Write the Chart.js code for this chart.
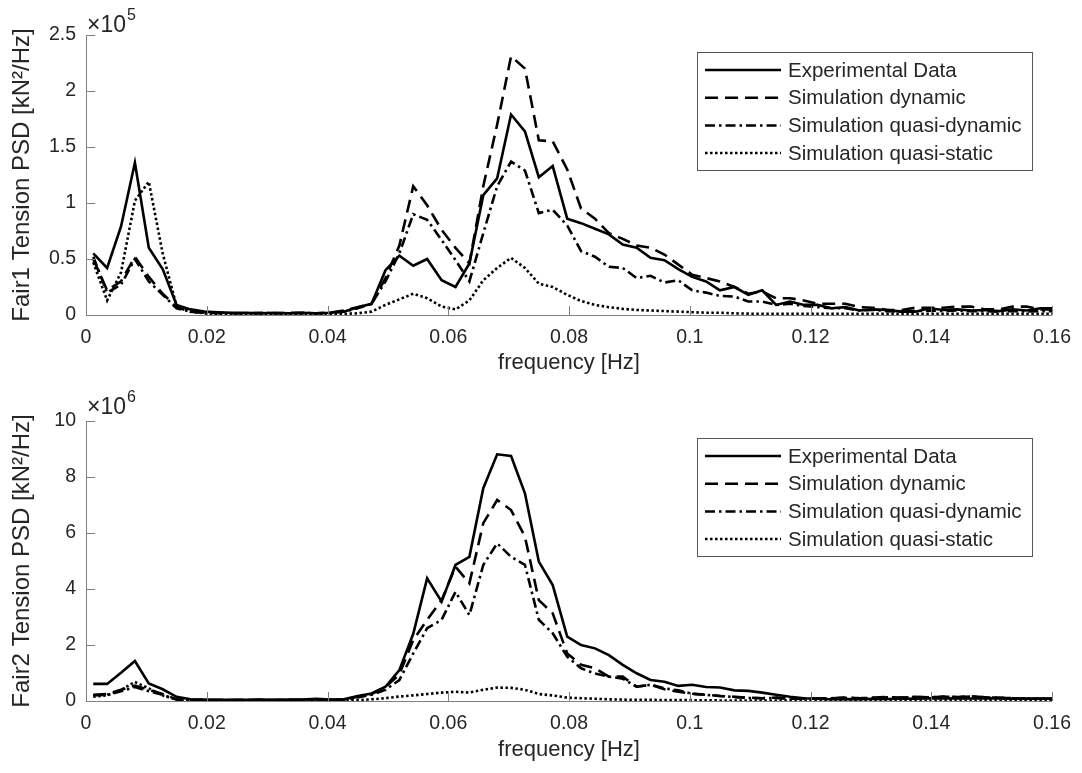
<!DOCTYPE html>
<html>
<head>
<meta charset="utf-8">
<script src="https://cdn.jsdelivr.net/npm/chart.js@4/dist/chart.umd.min.js"></script>
<style>
  body { margin: 0; background: #fff; }
  .box { position: absolute; left: 0; width: 1082px; }
  #top { top: 0; height: 386px; }
  #bot { top: 386px; height: 387px; }
</style>
</head>
<body>
<div class="box" id="top"><canvas id="c1"></canvas></div>
<div class="box" id="bot"><canvas id="c2"></canvas></div>
<script>
// frequency bins [Hz]
const freq = [
  0.0012, 0.0035, 0.0058, 0.0081, 0.0104, 0.0127, 0.0150, 0.0173, 0.0196, 0.0219,
  0.0242, 0.0265, 0.0288, 0.0312, 0.0335, 0.0358, 0.0381, 0.0404, 0.0427, 0.0450,
  0.0473, 0.0496, 0.0519, 0.0542, 0.0565, 0.0589, 0.0612, 0.0635, 0.0658, 0.0681,
  0.0704, 0.0727, 0.0750, 0.0773, 0.0797, 0.0820, 0.0843, 0.0866, 0.0889, 0.0912,
  0.0935, 0.0958, 0.0981, 0.1004, 0.1027, 0.1050, 0.1074, 0.1097, 0.1120, 0.1143,
  0.1166, 0.1189, 0.1212, 0.1235, 0.1258, 0.1281, 0.1304, 0.1327, 0.1351, 0.1374,
  0.1397, 0.1420, 0.1443, 0.1466, 0.1489, 0.1512, 0.1535, 0.1558, 0.1581, 0.1605
];

const labels = ['Experimental Data', 'Simulation dynamic', 'Simulation quasi-dynamic', 'Simulation quasi-static'];

// Fair1 PSD, units of 1e5 kN^2/Hz
const fair1Exp = [
  0.55, 0.42, 0.79, 1.36, 0.60, 0.41, 0.09, 0.05, 0.03, 0.025,
  0.02, 0.02, 0.015, 0.02, 0.015, 0.02, 0.015, 0.02, 0.03, 0.07,
  0.10, 0.40, 0.53, 0.44, 0.50, 0.31, 0.25, 0.46, 1.07, 1.22,
  1.79, 1.64, 1.23, 1.33, 0.86, 0.82, 0.77, 0.72, 0.63, 0.60,
  0.51, 0.49, 0.41, 0.34, 0.30, 0.22, 0.25, 0.18, 0.22, 0.09,
  0.12, 0.09, 0.09, 0.06, 0.07, 0.04, 0.05, 0.045, 0.03, 0.03,
  0.06, 0.045, 0.05, 0.04, 0.045, 0.035, 0.05, 0.04, 0.06, 0.06
];
const fair1Dyn = [
  0.50, 0.22, 0.30, 0.52, 0.34, 0.19, 0.07, 0.03, 0.02, 0.02,
  0.015, 0.015, 0.015, 0.015, 0.02, 0.015, 0.015, 0.02, 0.04, 0.07,
  0.10, 0.33, 0.62, 1.15, 0.98, 0.76, 0.60, 0.46, 1.15, 1.70,
  2.31, 2.20, 1.56, 1.55, 1.30, 0.95, 0.86, 0.73, 0.68, 0.62,
  0.60, 0.54, 0.45, 0.36, 0.33, 0.30, 0.25, 0.19, 0.21, 0.15,
  0.15, 0.13, 0.10, 0.10, 0.10, 0.07, 0.065, 0.045, 0.045, 0.065,
  0.065, 0.065, 0.075, 0.075, 0.05, 0.05, 0.075, 0.075, 0.05, 0.05
];
const fair1QDyn = [
  0.52, 0.20, 0.27, 0.50, 0.30, 0.18, 0.06, 0.03, 0.02, 0.015,
  0.015, 0.015, 0.02, 0.015, 0.015, 0.02, 0.015, 0.02, 0.03, 0.06,
  0.10, 0.30, 0.55, 0.90, 0.85, 0.67, 0.49, 0.30, 0.73, 1.15,
  1.37, 1.29, 0.91, 0.94, 0.80, 0.57, 0.52, 0.43, 0.42, 0.33,
  0.35, 0.29, 0.31, 0.22, 0.20, 0.17, 0.165, 0.12, 0.12, 0.09,
  0.10, 0.08, 0.07, 0.06, 0.06, 0.04, 0.045, 0.035, 0.03, 0.035,
  0.04, 0.035, 0.04, 0.035, 0.035, 0.03, 0.035, 0.03, 0.035, 0.035
];
const fair1QSta = [
  0.47, 0.13, 0.38, 1.02, 1.19, 0.55, 0.08, 0.03, 0.015, 0.01,
  0.01, 0.01, 0.01, 0.01, 0.01, 0.01, 0.01, 0.01, 0.01, 0.015,
  0.03, 0.09, 0.14, 0.19, 0.15, 0.075, 0.05, 0.13, 0.31, 0.42,
  0.51, 0.42, 0.28, 0.25, 0.18, 0.125, 0.09, 0.07, 0.055, 0.045,
  0.04, 0.035, 0.03, 0.025, 0.02, 0.02, 0.015, 0.012, 0.01, 0.01,
  0.01, 0.01, 0.01, 0.01, 0.01, 0.01, 0.01, 0.01, 0.01, 0.01,
  0.01, 0.01, 0.01, 0.01, 0.01, 0.01, 0.01, 0.01, 0.01, 0.01
];

// Fair2 PSD, units of 1e6 kN^2/Hz
const fair2Exp = [
  0.61, 0.61, 1.01, 1.43, 0.63, 0.42, 0.15, 0.06, 0.05, 0.04,
  0.04, 0.04, 0.05, 0.04, 0.05, 0.05, 0.08, 0.05, 0.06, 0.18,
  0.27, 0.51, 1.10, 2.40, 4.38, 3.55, 4.86, 5.15, 7.60, 8.81,
  8.75, 7.42, 4.98, 4.14, 2.30, 2.00, 1.88, 1.64, 1.29, 0.99,
  0.75, 0.69, 0.54, 0.58, 0.50, 0.48, 0.38, 0.36, 0.30, 0.22,
  0.15, 0.10, 0.08, 0.06, 0.07, 0.06, 0.08, 0.07, 0.09, 0.08,
  0.10, 0.09, 0.10, 0.09, 0.10, 0.09, 0.08, 0.08, 0.09, 0.09
];
const fair2Dyn = [
  0.22, 0.25, 0.40, 0.55, 0.40, 0.25, 0.06, 0.04, 0.04, 0.03,
  0.03, 0.03, 0.04, 0.03, 0.04, 0.04, 0.06, 0.04, 0.05, 0.15,
  0.25, 0.50, 0.95, 2.18, 2.90, 3.60, 4.80, 4.20, 6.35, 7.18,
  6.82, 5.87, 3.60, 3.13, 1.70, 1.29, 1.17, 0.87, 0.87, 0.51,
  0.58, 0.42, 0.33, 0.26, 0.22, 0.18, 0.15, 0.12, 0.10, 0.12,
  0.08, 0.10, 0.09, 0.10, 0.12, 0.10, 0.12, 0.14, 0.12, 0.15,
  0.13, 0.16, 0.14, 0.17, 0.13, 0.12, 0.10, 0.09, 0.08, 0.08
];
const fair2QDyn = [
  0.20, 0.22, 0.35, 0.50, 0.35, 0.22, 0.05, 0.04, 0.03, 0.03,
  0.03, 0.03, 0.03, 0.03, 0.04, 0.03, 0.05, 0.04, 0.05, 0.13,
  0.22, 0.40, 0.75, 1.70, 2.60, 2.90, 3.90, 3.07, 4.86, 5.63,
  5.15, 4.86, 2.90, 2.42, 1.58, 1.17, 0.98, 0.87, 0.80, 0.51,
  0.58, 0.45, 0.38, 0.26, 0.22, 0.18, 0.14, 0.11, 0.10, 0.11,
  0.08, 0.09, 0.09, 0.10, 0.11, 0.10, 0.11, 0.13, 0.12, 0.14,
  0.13, 0.15, 0.14, 0.16, 0.13, 0.11, 0.10, 0.09, 0.08, 0.08
];
const fair2QSta = [
  0.15, 0.20, 0.40, 0.68, 0.45, 0.20, 0.05, 0.02, 0.02, 0.02,
  0.02, 0.02, 0.02, 0.02, 0.02, 0.02, 0.02, 0.02, 0.02, 0.03,
  0.06, 0.10, 0.16, 0.20, 0.25, 0.30, 0.33, 0.30, 0.40, 0.48,
  0.47, 0.40, 0.25, 0.20, 0.12, 0.10, 0.08, 0.06, 0.05, 0.04,
  0.04, 0.035, 0.03, 0.03, 0.025, 0.02, 0.02, 0.02, 0.02, 0.02,
  0.02, 0.02, 0.02, 0.02, 0.02, 0.02, 0.02, 0.02, 0.02, 0.02,
  0.02, 0.02, 0.02, 0.02, 0.02, 0.02, 0.02, 0.02, 0.02, 0.02
];

const FONT = "'Liberation Sans', Arial, sans-serif";
const AXIS = '#808080';
const TEXT = '#262626';
const dashes = [[], [13, 7], [10, 4, 2.5, 4], [2.5, 2.5]];

function series(vals){ return freq.map((f,i)=>({x:f, y:vals[i]})); }

// inward ticks, axis lines, x10^n label, legend box
const matlabLook = {
  id: 'matlabLook',
  afterDatasetsDraw(chart, args, opts){
    const ctx = chart.ctx, a = chart.chartArea;
    const xs = chart.scales.x, ys = chart.scales.y;
    ctx.save();
    ctx.strokeStyle = AXIS; ctx.lineWidth = 1; ctx.setLineDash([]);
    ctx.beginPath();
    ctx.moveTo(a.left+0.5, a.top); ctx.lineTo(a.left+0.5, a.bottom+0.5);
    ctx.lineTo(a.right, a.bottom+0.5);
    xs.ticks.forEach(t=>{
      const px = Math.round(xs.getPixelForValue(t.value))+0.5;
      ctx.moveTo(px, a.bottom); ctx.lineTo(px, a.bottom-9);
    });
    ys.ticks.forEach(t=>{
      const py = Math.round(ys.getPixelForValue(t.value))+0.5;
      ctx.moveTo(a.left, py); ctx.lineTo(a.left+9, py);
    });
    ctx.stroke();

    // exponent
    ctx.fillStyle = TEXT;
    ctx.textBaseline = 'alphabetic'; ctx.textAlign = 'left';
    ctx.font = '23px ' + FONT;
    const ey = a.top - opts.expGap;
    ctx.fillText('\u00d710', a.left+1, ey);
    const w = ctx.measureText('\u00d710').width;
    ctx.font = '16px ' + FONT;
    ctx.fillText(opts.exp, a.left+2+w, ey-12);

    // legend
    const bw = 335, bh = 118;
    const bx = a.right - 20 - bw, by = a.top + 17;
    ctx.fillStyle = '#fff';
    ctx.fillRect(bx, by, bw, bh);
    ctx.strokeStyle = '#555'; ctx.lineWidth = 1;
    ctx.strokeRect(bx+0.5, by+0.5, bw, bh);
    ctx.font = '20.5px ' + FONT;
    ctx.textBaseline = 'middle';
    chart.data.datasets.forEach((d,i)=>{
      const y = by + 18 + i*27.7;
      ctx.strokeStyle = '#000'; ctx.lineWidth = 2.5;
      ctx.setLineDash(d.borderDash || []);
      ctx.beginPath(); ctx.moveTo(bx+8, y); ctx.lineTo(bx+84, y); ctx.stroke();
      ctx.setLineDash([]);
      ctx.fillStyle = TEXT;
      ctx.fillText(d.label, bx+91, y+1);
    });
    ctx.restore();
  }
};

function makeChart(id, sets, yMax, yStep, yTitle, exp, expGap, xH){
  return new Chart(document.getElementById(id), {
    type: 'line',
    data: {
      datasets: sets.map((v,i)=>({
        label: labels[i], data: series(v),
        borderColor: '#000', borderWidth: 2.6, borderDash: dashes[i],
        pointRadius: 0, tension: 0, fill: false
      }))
    },
    options: {
      responsive: true, maintainAspectRatio: false, animation: false,
      layout: { padding: { top: 35, right: 29, left: 0, bottom: 0 } },
      plugins: { legend: { display: false }, tooltip: { enabled: false }, matlabLook: { exp, expGap } },
      scales: {
        x: {
          type: 'linear', min: 0, max: 0.16,
          grid: { display: false, drawTicks: false }, border: { display: false },
          ticks: { stepSize: 0.02, padding: 11, color: TEXT, font: { family: FONT, size: 19.5 },
            maxRotation: 0, autoSkip: false, callback: v => String(+v.toFixed(3)) },
          title: { display: true, text: 'frequency [Hz]', color: TEXT,
            font: { family: FONT, size: 22 }, padding: { top: 0, bottom: 10 } },
          afterFit: s => { s.height = xH; }
        },
        y: {
          min: 0, max: yMax,
          grid: { display: false, drawTicks: false }, border: { display: false },
          ticks: { stepSize: yStep, padding: 10, color: TEXT, font: { family: FONT, size: 19.5 },
            callback: v => String(+v.toFixed(2)) },
          title: { display: true, text: yTitle, color: TEXT,
            font: { family: FONT, size: 24 }, padding: { top: 8, bottom: 0 } },
          afterFit: s => { s.width = 86; }
        }
      }
    },
    plugins: [matlabLook]
  });
}

makeChart('c1', [fair1Exp, fair1Dyn, fair1QDyn, fair1QSta], 2.5, 0.5,
  'Fair1 Tension PSD [kN\u00b2/Hz]', '5', 3, 71);
makeChart('c2', [fair2Exp, fair2Dyn, fair2QDyn, fair2QSta], 10, 2,
  'Fair2 Tension PSD [kN\u00b2/Hz]', '6', 7, 72);
</script>
</body>
</html>
